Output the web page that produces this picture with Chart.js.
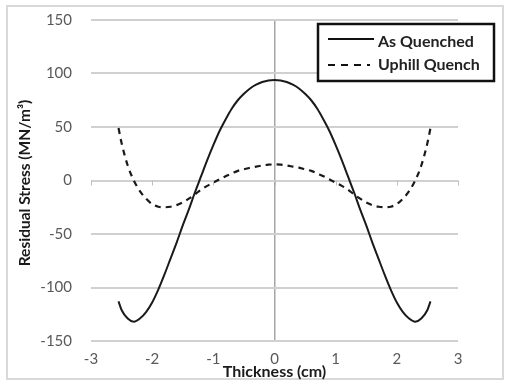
<!DOCTYPE html>
<html>
<head>
<meta charset="utf-8">
<script src="https://cdn.jsdelivr.net/npm/chart.js@4"></script>
<style>
  html, body { margin: 0; padding: 0; background: #fff; }
  #wrap { width: 509px; height: 388px; }
</style>
</head>
<body>
<div id="wrap"><canvas id="stressChart" width="509" height="388"></canvas></div>
<script>
// thickness positions (cm)
var thickness = [-2.55, -2.5, -2.4, -2.3, -2.2, -2.1, -2.0, -1.9, -1.8, -1.7, -1.6, -1.5, -1.4, -1.3,
  -1.2, -1.1, -1.0, -0.9, -0.8, -0.7, -0.6, -0.5, -0.4, -0.3, -0.2, -0.1, 0,
  0.1, 0.2, 0.3, 0.4, 0.5, 0.6, 0.7, 0.8, 0.9, 1.0, 1.1, 1.2, 1.3,
  1.4, 1.5, 1.6, 1.7, 1.8, 1.9, 2.0, 2.1, 2.2, 2.3, 2.4, 2.5, 2.55];

// residual stress (MN/m3)
var asQuenched = [-113, -121, -129, -132, -129, -123, -114, -102, -88, -73, -58, -42, -27, -11,
  4, 19, 33, 46, 57, 67, 75, 81, 86, 89.5, 92, 93.5, 94,
  93.5, 92, 89.5, 86, 81, 75, 67, 57, 46, 33, 19, 4, -11,
  -27, -42, -58, -73, -88, -102, -114, -123, -129, -132, -129, -121, -113];

var uphillQuench = [49, 35, 14, 0, -10, -17, -22, -24.5, -25, -24.5, -23, -20.5, -17, -13,
  -8.5, -5, -2, 1, 4, 6.5, 9, 10.5, 12, 13, 14, 14.8, 15,
  14.8, 14, 13, 12, 10.5, 9, 6.5, 4, 1, -2, -5, -8.5, -13,
  -17, -20.5, -23, -24.5, -25, -24.5, -22, -17, -10, 0, 14, 35, 49];

var seriesNames = ["As Quenched", "Uphill Quench"];
var xTicks = [-3, -2, -1, 0, 1, 2, 3];
var yTicks = [-150, -100, -50, 0, 50, 100, 150];

function toPoints(ys) {
  return thickness.map(function (t, i) { return { x: t, y: ys[i] }; });
}

var FONT = "Lato, 'Open Sans', sans-serif";

// frame, axis titles and the boxed legend
var extras = {
  id: "extras",
  beforeDraw: function (chart) {
    var c = chart.ctx;
    c.save();
    c.fillStyle = "#fff";
    c.fillRect(0, 0, chart.width, chart.height);
    c.strokeStyle = "#d9d9d9";
    c.lineWidth = 2;
    c.strokeRect(7, 6, 496, 373);
    c.restore();
  },
  afterDraw: function (chart) {
    var c = chart.ctx;
    var xs = chart.scales.x, ys = chart.scales.y;
    c.save();
    // small tick marks on the zero line
    c.strokeStyle = "#bfbfbf";
    c.lineWidth = 1;
    var y0 = ys.getPixelForValue(0);
    xTicks.forEach(function (v) {
      var px = Math.round(xs.getPixelForValue(v)) + 0.5;
      c.beginPath();
      c.moveTo(px, y0);
      c.lineTo(px, y0 + 5);
      c.stroke();
    });

    // axis titles
    c.fillStyle = "#1a1a1a";
    c.font = "bold 16px " + FONT;
    c.textAlign = "center";
    c.textBaseline = "middle";
    c.fillText("Thickness (cm)", xs.getPixelForValue(0), 372);
    c.translate(25, 183);
    c.rotate(-Math.PI / 2);
    c.font = "bold 15.5px " + FONT;
    c.fillText("Residual Stress (MN/m\u00B3)", 0, 0);
    c.restore();

    // legend
    c.save();
    c.fillStyle = "#fff";
    c.fillRect(318, 24, 176, 57);
    c.strokeStyle = "#111";
    c.lineWidth = 2.5;
    c.strokeRect(318, 24, 176, 57);
    c.lineWidth = 2;
    c.beginPath();
    c.moveTo(328, 39);
    c.lineTo(374, 39);
    c.stroke();
    c.setLineDash([7, 6]);
    c.beginPath();
    c.moveTo(328, 65);
    c.lineTo(370, 65);
    c.stroke();
    c.setLineDash([]);
    c.fillStyle = "#222";
    c.font = "bold 16px " + FONT;
    c.textAlign = "left";
    c.textBaseline = "middle";
    c.fillText(seriesNames[0], 378, 42);
    c.fillText(seriesNames[1], 378, 65);
    c.restore();
  }
};

var ctx = document.getElementById("stressChart").getContext("2d");
var stressChart = new Chart(ctx, {
  type: "scatter",
  data: {
    datasets: [
      {
        label: seriesNames[0],
        data: toPoints(asQuenched),
        showLine: true,
        borderColor: "#1a1a1a",
        borderWidth: 2,
        pointRadius: 0,
        tension: 0.4,
        cubicInterpolationMode: "monotone",
      },
      {
        label: seriesNames[1],
        data: toPoints(uphillQuench),
        showLine: true,
        borderColor: "#1a1a1a",
        borderWidth: 2.2,
        borderDash: [6, 5],
        pointRadius: 0,
        tension: 0.4,
        cubicInterpolationMode: "monotone",
      },
    ],
  },
  options: {
    responsive: false,
    animation: false,
    layout: { padding: { left: 0, right: 51, top: 20, bottom: 0 } },
    plugins: { legend: { display: false }, tooltip: { enabled: false } },
    scales: {
      x: {
        type: "linear",
        min: -3,
        max: 3,
        afterBuildTicks: function (axis) {
          axis.ticks = xTicks.map(function (v) { return { value: v }; });
        },
        afterFit: function (axis) {
          axis.height = 388 - 341;
          axis.paddingLeft = 0;
          axis.paddingRight = 0;
        },
        grid: {
          drawTicks: false,
          lineWidth: 1.5,
          color: function (c) { return c.tick && c.tick.value === 0 ? "#a6a6a6" : "rgba(0,0,0,0)"; },
        },
        border: { display: false },
        ticks: { color: "#595959", font: { family: FONT, size: 15 }, padding: 9, maxRotation: 0 },
      },
      y: {
        min: -150,
        max: 150,
        afterBuildTicks: function (axis) {
          axis.ticks = yTicks.map(function (v) { return { value: v }; });
        },
        afterFit: function (axis) {
          axis.width = 91;
          axis.paddingTop = 0;
          axis.paddingBottom = 0;
        },
        grid: { drawTicks: false, lineWidth: 2, color: "#d0d0d0" },
        border: { display: false },
        ticks: { color: "#595959", font: { family: FONT, size: 15 }, padding: 19 },
      },
    },
  },
  plugins: [extras],
});
</script>
</body>
</html>
